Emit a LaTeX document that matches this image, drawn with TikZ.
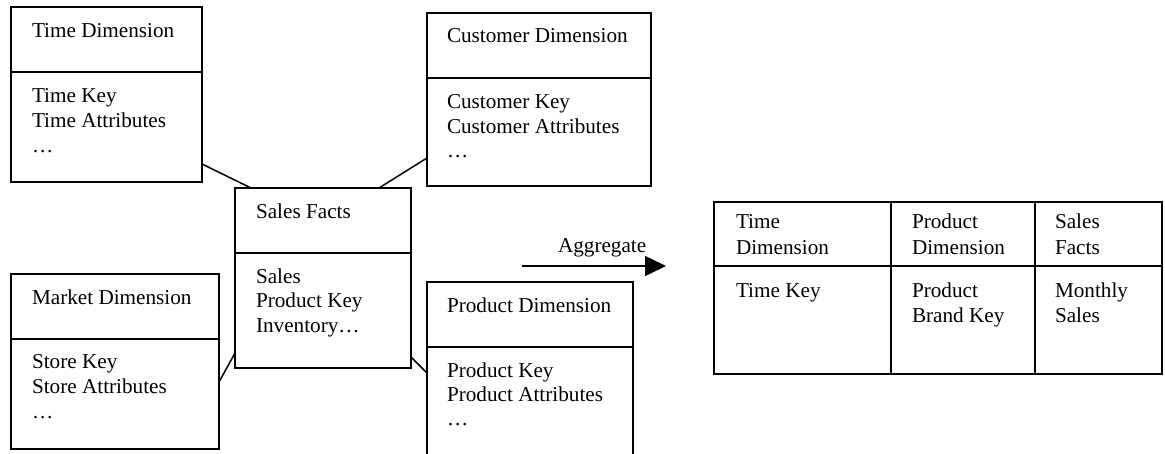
\documentclass[tikz,border=0pt]{standalone}
\usepackage{fontspec}
\setmainfont{Liberation Serif}
\usetikzlibrary{arrows.meta,calc}
\tikzset{
  entity/.style={draw, line width=1.6pt, rectangle, inner sep=0pt, outer sep=0pt, anchor=north west},
  txt/.style={anchor=base west, inner sep=0pt, outer sep=0pt},
  link/.style={line width=1.5pt},
  rule/.style={line width=1.6pt},
}
\begin{document}
\begin{tikzpicture}[x=1pt, y=-1pt, font=\fontsize{21.2}{25}\selectfont]
\useasboundingbox (0,0) rectangle (1165,453);

% entity boxes of the star schema
\node[entity, minimum width=191pt, minimum height=175pt] (time)   at (11,7)    {};
\node[entity, minimum width=224pt, minimum height=173pt] (cust)   at (427,13)  {};
\node[entity, minimum width=176pt, minimum height=180pt] (sales)  at (235,188) {};
\node[entity, minimum width=208pt, minimum height=175pt] (market) at (11,274)  {};
\node[entity, minimum width=206pt, minimum height=200pt] (prod)   at (427,282) {};

% header separators
\foreach \b in {time,cust,sales,market,prod}
  \draw[rule] ($(\b.north west)+(0,65)$) -- ($(\b.north east)+(0,65)$);

% box texts
\node[txt] (timeh)  at (32,37)  {Time Dimension};
\node[txt] (timea)  at (32,102) {Time Key};
\node[txt] (timeb)  at (32,127) {Time Attributes};
\node[txt] (timec)  at (32,152) {…};

\node[txt] (custh)  at (447,42)  {Customer Dimension};
\node[txt] (custa)  at (447,108) {Customer Key};
\node[txt] (custb)  at (447,133) {Customer Attributes};
\node[txt] (custc)  at (447,157) {…};

\node[txt] (salesh) at (256,218) {Sales Facts};
\node[txt] (salesa) at (256,283) {Sales};
\node[txt] (salesb) at (256,307) {Product Key};
\node[txt] (salesc) at (256,332) {Inventory…};

\node[txt] (markh)  at (32,304) {Market Dimension};
\node[txt] (marka)  at (32,368) {Store Key};
\node[txt] (markb)  at (32,393) {Store Attributes};
\node[txt] (markc)  at (32,418) {…};

\node[txt] (prodh)  at (447,312) {Product Dimension};
\node[txt] (proda)  at (447,377) {Product Key};
\node[txt] (prodb)  at (447,401) {Product Attributes};
\node[txt] (prodc)  at (447,425) {…};

% links between dimensions and the fact table
\draw[link] ($(time.south east)+(0,-18)$)   -- ($(sales.north west)+(16,0)$);
\draw[link] ($(cust.south west)+(0,-28)$)   -- ($(sales.north east)+(-32,0)$);
\draw[link] ($(market.south east)+(0,-67)$) -- ($(sales.south west)+(0,-15)$);
\draw[link] ($(sales.south east)+(0,-11)$)  -- ($(prod.north west)+(0,91)$);

% aggregation arrow
\coordinate (aggstart) at (522,266);
\coordinate (aggend)   at (666,266);
\draw[link, -{Triangle[length=21pt,width=20pt]}] (aggstart) -- (aggend);
\node[txt] (agglabel) at (558,252) {Aggregate};

% aggregated table
\node[entity, minimum width=448pt, minimum height=172pt] (agg) at (714,202) {};
\draw[rule] ($(agg.north west)+(0,64)$)  -- ($(agg.north east)+(0,64)$);
\draw[rule] ($(agg.north west)+(177,0)$) -- ($(agg.south west)+(177,0)$);
\draw[rule] ($(agg.north west)+(321,0)$) -- ($(agg.south west)+(321,0)$);

\node[txt] (c1a) at (736,228)  {Time};
\node[txt] (c1b) at (736,254)  {Dimension};
\node[txt] (c1c) at (736,297)  {Time Key};
\node[txt] (c2a) at (912,228)  {Product};
\node[txt] (c2b) at (912,254)  {Dimension};
\node[txt] (c2c) at (912,297)  {Product};
\node[txt] (c2d) at (912,322)  {Brand Key};
\node[txt] (c3a) at (1055,228) {Sales};
\node[txt] (c3b) at (1055,254) {Facts};
\node[txt] (c3c) at (1055,297) {Monthly};
\node[txt] (c3d) at (1055,322) {Sales};
\end{tikzpicture}
\end{document}
